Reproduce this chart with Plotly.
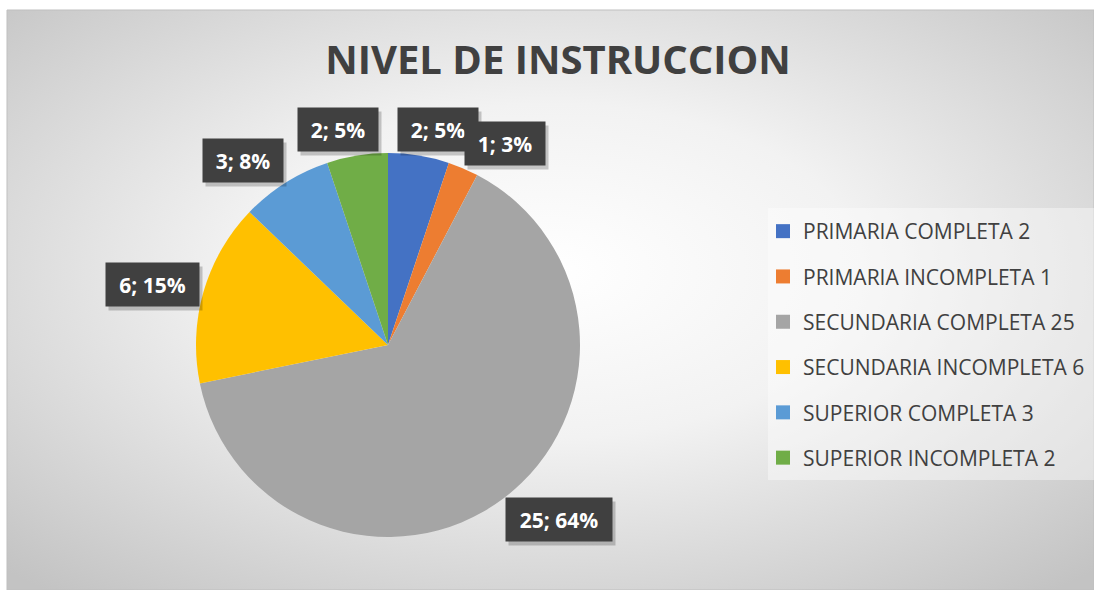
import base64
import math
import plotly.graph_objects as go

CATEGORIAS = [
    "PRIMARIA COMPLETA 2",
    "PRIMARIA INCOMPLETA 1",
    "SECUNDARIA COMPLETA 25",
    "SECUNDARIA INCOMPLETA 6",
    "SUPERIOR COMPLETA 3",
    "SUPERIOR INCOMPLETA 2",
]
CANTIDAD = [2, 1, 25, 6, 3, 2]
COLORES = ["#4472C4", "#ED7D31", "#A5A5A5", "#FFC000", "#5B9BD5", "#70AD47"]
TITULO = "NIVEL DE INSTRUCCION"

W, H = 1094, 590
CX, CY, R = 388, 345, 192   # pie centre / radius in px
FONT = "Open Sans"
GRIS = "#404040"


def px(x):
    return x / W


def py(y):
    return 1 - y / H


# excel-like radial gradient for the chart area
svg = (
    '<svg xmlns="http://www.w3.org/2000/svg" width="1087" height="580" '
    'viewBox="0 0 1087 580" preserveAspectRatio="none"><defs>'
    '<radialGradient id="g" cx="0.5" cy="0.45" r="0.72">'
    '<stop offset="0" stop-color="#ffffff"/>'
    '<stop offset="0.4" stop-color="#f2f2f2"/>'
    '<stop offset="1" stop-color="#c3c3c3"/>'
    '</radialGradient></defs>'
    '<rect width="1087" height="580" fill="url(#g)"/></svg>'
)
fondo = "data:image/svg+xml;base64," + base64.b64encode(svg.encode()).decode()

fig = go.Figure()
fig.add_trace(go.Pie(
    labels=CATEGORIAS, values=CANTIDAD, sort=False, direction="clockwise",
    marker=dict(colors=COLORES, line=dict(width=0)),
    textinfo="none", showlegend=False, hoverinfo="label+value+percent",
    domain=dict(x=[px(CX - R), px(CX + R)], y=[py(CY + R), py(CY - R)]),
))

# legend entries (separate groups so the rows can be spaced like excel)
for cat, col in zip(CATEGORIAS, COLORES):
    fig.add_trace(go.Scatter(
        x=[None], y=[None], mode="markers", name=cat, legendgroup=cat,
        marker=dict(symbol="square", size=14, color=col),
    ))

# data labels: dark boxes just outside each slice (excel "outside end")
anns = []
total = sum(CANTIDAD)
acum = 0
for v in CANTIDAD:
    a = math.radians((acum + v / 2) / total * 360)
    acum += v
    txt = f"{v}; {round(v / total * 100)}%"
    w, h = 13 * len(txt) + 13, 41
    d = R + 6
    s, c = math.sin(a), math.cos(a)
    x = CX + d * s + w / 2 * max(-1, min(1, s / 0.35))
    y = CY - d * c - h / 2 * c
    base = dict(xref="paper", yref="paper", x=px(x), y=py(y), showarrow=False,
                xanchor="center", yanchor="middle", width=w, height=h)
    anns.append(dict(base, text=" ", bgcolor="rgba(0,0,0,0.2)", xshift=3, yshift=-4))
    anns.append(dict(base, text=f"<b>{txt}</b>", bgcolor=GRIS,
                     font=dict(family=FONT, size=21, color="white")))

fig.update_layout(
    width=W, height=H,
    margin=dict(l=0, r=0, t=0, b=0),
    paper_bgcolor="white", plot_bgcolor="rgba(0,0,0,0)",
    xaxis=dict(visible=False), yaxis=dict(visible=False),
    title=dict(text=f"<b>{TITULO}</b>", x=px(558), y=py(60), xanchor="center",
               yanchor="middle", font=dict(family=FONT, size=40, color=GRIS)),
    legend=dict(x=px(763), y=py(211), xanchor="left", yanchor="top",
                font=dict(family=FONT, size=21, color=GRIS),
                bgcolor="rgba(0,0,0,0)", tracegroupgap=15, itemwidth=30),
    images=[dict(source=fondo, xref="paper", yref="paper", x=px(7), y=py(10),
                 sizex=px(W - 7), sizey=(H - 10) / H, sizing="stretch",
                 xanchor="left", yanchor="top", layer="below")],
    shapes=[
        dict(type="rect", xref="paper", yref="paper", x0=px(7), x1=1, y0=0, y1=py(10),
             line=dict(color="#bfbfbf", width=1), layer="below"),
        dict(type="rect", xref="paper", yref="paper", x0=px(768), x1=1,
             y0=py(480), y1=py(208), fillcolor="rgba(255,255,255,0.4)",
             line=dict(width=0), layer="below"),
    ],
    annotations=anns,
)

fig.write_html("out.html", config={"displayModeBar": False},
               post_script="document.body.style.margin='0';")
